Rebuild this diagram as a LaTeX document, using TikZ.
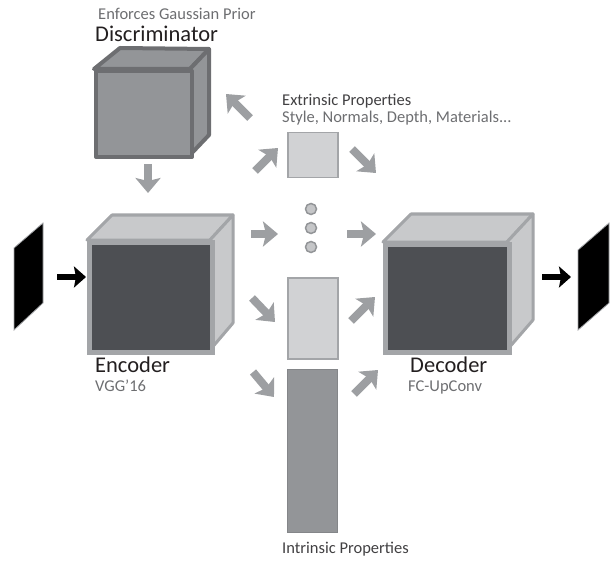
\documentclass[tikz,border=0pt]{standalone}
\usepackage{fontspec}
\setmainfont{Carlito}
\usetikzlibrary{arrows.meta}
\definecolor{discfill}{HTML}{939598}
\definecolor{discline}{HTML}{6D6E71}
\definecolor{lightfill}{HTML}{C8C9CB}
\definecolor{lightline}{HTML}{A3A5A8}
\definecolor{darkface}{HTML}{4D4F53}
\definecolor{boxfill}{HTML}{D1D2D4}
\definecolor{arrowgray}{HTML}{9D9FA2}
\definecolor{txtdark}{HTML}{231F20}
\definecolor{txtmid}{HTML}{414042}
\definecolor{txtlight}{HTML}{6D6E71}
\tikzset{
  fatarrow/.style={draw=arrowgray, line width=8pt,
    -{Stealth[length=15pt,width=25pt,inset=3pt]}},
  blackarrow/.style={draw=black, line width=5.5pt,
    -{Stealth[length=12pt,width=21pt,inset=2pt]}},
  discface/.style={fill=discfill, draw=discline, line width=4pt, line join=round},
  lightface/.style={fill=lightfill, draw=lightline, line width=3pt, line join=round},
  frontface/.style={fill=darkface, draw=lightline, line width=5pt, line join=miter},
  image/.style={fill=black, draw=lightline, line width=0.8pt},
  titletxt/.style={text=txtdark, font=\fontsize{22.5}{24}\selectfont, inner sep=0pt, anchor=base west},
  subtxt/.style={text=txtlight, font=\fontsize{16.5}{18}\selectfont, inner sep=0pt, anchor=base west},
  midtxt/.style={text=txtmid, font=\fontsize{16.5}{18}\selectfont, inner sep=0pt, anchor=base west},
  dot/.style={circle, fill=boxfill!80!discfill, draw=discfill, line width=1.5pt, minimum size=11pt, inner sep=0pt}
}
\begin{document}
\begin{tikzpicture}[x=1pt, y=-1pt]
\useasboundingbox (0,0) rectangle (612,561);
% Discriminator cube
\draw[discface] (94,69) -- (120,48) -- (209,49) -- (190,69) -- cycle;
\draw[discface] (190,69) -- (209,49) -- (209,135) -- (190,155) -- cycle;
\node[discface, minimum width=96pt, minimum height=86pt, anchor=north west, inner sep=0pt] (disc) at (94,69) {};
% Encoder cube
\draw[lightface] (87,240) -- (112,215) -- (233,215) -- (210,240) -- cycle;
\draw[lightface] (210,240) -- (233,215) -- (233,323) -- (210,350) -- cycle;
\node[frontface, minimum width=123pt, minimum height=110pt, anchor=north west, inner sep=0pt] (enc) at (87,240) {};
% Decoder cube
\draw[lightface] (383,242) -- (411,214) -- (533,214) -- (507,242) -- cycle;
\draw[lightface] (507,242) -- (533,214) -- (533,320) -- (507,350) -- cycle;
\node[frontface, minimum width=124pt, minimum height=108pt, anchor=north west, inner sep=0pt] (dec) at (383,242) {};
% input / output images
\draw[image] (14,248) -- (43,223) -- (43,303) -- (14,330) -- cycle;
\coordinate (inimg) at (57,277);
\coordinate (encin) at (86,277);
\draw[image] (578,250) -- (609,223) -- (609,303) -- (578,330) -- cycle;
\coordinate (decout) at (542,277);
\coordinate (outimg) at (571,277);
% latent boxes
\node[fill=boxfill, draw=lightline, line width=1.5pt, minimum width=50pt, minimum height=45pt, inner sep=0pt, anchor=north west] (ext) at (287,132) {};
\node[fill=boxfill, draw=lightline, line width=1.5pt, minimum width=50pt, minimum height=81pt, inner sep=0pt, anchor=north west] (intl) at (287,277) {};
\node[fill=discfill, draw=discfill!90!black, line width=0.8pt, minimum width=50pt, minimum height=163pt, inner sep=0pt, anchor=north west] (intd) at (287,369) {};
\node[dot] (d1) at (311,209) {};
\node[dot] (d2) at (311,228) {};
\node[dot] (d3) at (311,247) {};
% black arrows
\draw[blackarrow] (inimg) -- (encin);
\draw[blackarrow] (decout) -- (outimg);
% gray arrows
\coordinate (a1s) at (148,164); \coordinate (a1e) at (148,193);
\draw[fatarrow] (a1s) -- (a1e);
\coordinate (a2s) at (250,118); \coordinate (a2e) at (226,94);
\draw[fatarrow] (a2s) -- (a2e);
\coordinate (a3s) at (255,171); \coordinate (a3e) at (278,148);
\draw[fatarrow] (a3s) -- (a3e);
\coordinate (a4s) at (352,149); \coordinate (a4e) at (376,173);
\draw[fatarrow] (a4s) -- (a4e);
\coordinate (a5s) at (251,234); \coordinate (a5e) at (278,234);
\draw[fatarrow] (a5s) -- (a5e);
\coordinate (a6s) at (347,234); \coordinate (a6e) at (376,234);
\draw[fatarrow] (a6s) -- (a6e);
\coordinate (a7s) at (252,298); \coordinate (a7e) at (275,322);
\draw[fatarrow] (a7s) -- (a7e);
\coordinate (a8s) at (351,321); \coordinate (a8e) at (375,297);
\draw[fatarrow] (a8s) -- (a8e);
\coordinate (a9s) at (253,372); \coordinate (a9e) at (274,397);
\draw[fatarrow] (a9s) -- (a9e);
\coordinate (a10s) at (354,394); \coordinate (a10e) at (378,370);
\draw[fatarrow] (a10s) -- (a10e);
% texts
\node[subtxt] (t1) at (98,20) {Enforces Gaussian Prior};
\node[titletxt] (t2) at (95,42) {Discriminator};
\node[midtxt] (t3) at (282,106) {Extrinsic Properties};
\node[subtxt] (t4) at (282,123) {Style, Normals, Depth, Materials...};
\node[titletxt] (t5) at (95,372) {Encoder};
\node[subtxt] (t6) at (95,391) {VGG’16};
\node[titletxt] (t7) at (410,372) {Decoder};
\node[subtxt] (t8) at (408,391) {FC-UpConv};
\node[midtxt] (t9) at (282,553) {Intrinsic Properties};
\end{tikzpicture}
\end{document}
